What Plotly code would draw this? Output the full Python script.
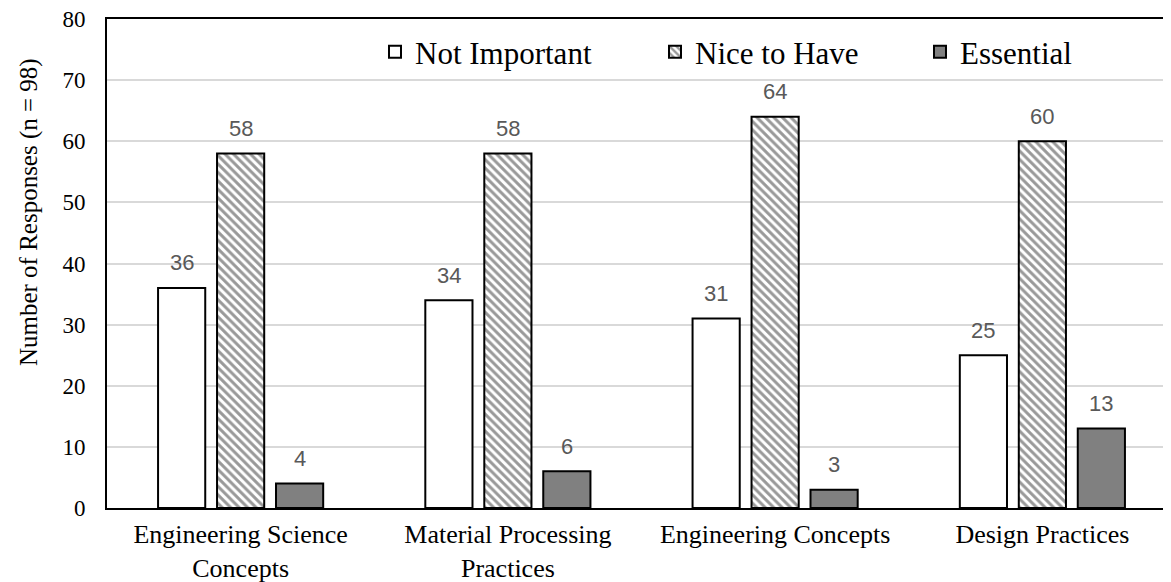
import plotly.graph_objects as go

categories = ["Engineering Science<br>Concepts", "Material Processing<br>Practices",
              "Engineering Concepts", "Design Practices"]
series_names = ["Not Important", "Nice to Have", "Essential"]
not_important = [36, 34, 31, 25]
nice_to_have = [58, 58, 64, 60]
essential = [4, 6, 3, 13]
y_ticks = [0, 10, 20, 30, 40, 50, 60, 70, 80]

SERIF = "Liberation Serif, Times New Roman, serif"
SANS = "Liberation Sans, Arial, sans-serif"

BARGAP = 0.338
slot = (1 - BARGAP) / 3

fig = go.Figure()
styles = [
    dict(color="white"),
    dict(color="white", pattern=dict(shape="\\", fgcolor="#333333", bgcolor="white",
                                     size=6, solidity=0.5, fillmode="overlay")),
    dict(color="#808080"),
]
legend_widths = [235, 220, 200]
values = [not_important, nice_to_have, essential]
for name, vals, st, lw in zip(series_names, values, styles, legend_widths):
    fig.add_trace(go.Bar(
        x=categories, y=vals, name=name,
        marker=dict(**st, line=dict(color="black", width=2)),
        legendwidth=lw,
    ))

annotations = []
for s, vals in enumerate(values):
    off = (s - 1) * slot
    for i, v in enumerate(vals):
        annotations.append(dict(
            x=i + off, y=v, xref="x", yref="y", text=str(v), showarrow=False,
            yanchor="middle", yshift=25,
            font=dict(family=SANS, size=22, color="#595959"),
        ))

annotations.append(dict(
    x=-0.073, y=0.605, xref="paper", yref="paper",
    text="Number of Responses (n = 98)", textangle=-90, showarrow=False,
    xanchor="center", yanchor="middle",
    font=dict(family=SERIF, size=25, color="black"),
))

fig.update_layout(
    width=1171, height=582,
    margin=dict(l=99, r=3, t=11, b=82, autoexpand=False),
    paper_bgcolor="white", plot_bgcolor="white",
    barmode="group", bargap=BARGAP, bargroupgap=0.2,
    showlegend=True,
    legend=dict(orientation="h", x=0.2507, y=0.9325, xanchor="left", yanchor="middle",
                font=dict(family=SERIF, size=31, color="black"),
                bgcolor="rgba(0,0,0,0)", traceorder="normal"),
    annotations=annotations,
    xaxis=dict(
        type="category", range=[-0.5, 3.5], automargin=False,
        showline=True, linecolor="black", linewidth=2, mirror=True,
        showgrid=False, ticks="", ticklabelstandoff=2, ticklabeloverflow="allow",
        tickfont=dict(family=SERIF, size=26, color="black"),
    ),
    yaxis=dict(
        range=[0, 80], tickvals=y_ticks, automargin=False,
        showline=True, linecolor="black", linewidth=2,
        showgrid=True, gridcolor="#d9d9d9", gridwidth=2,
        zeroline=False, ticks="", ticklabelstandoff=15, ticklabeloverflow="allow",
        tickfont=dict(family=SERIF, size=23, color="black"),
    ),
)

fig.write_html("out.html")
